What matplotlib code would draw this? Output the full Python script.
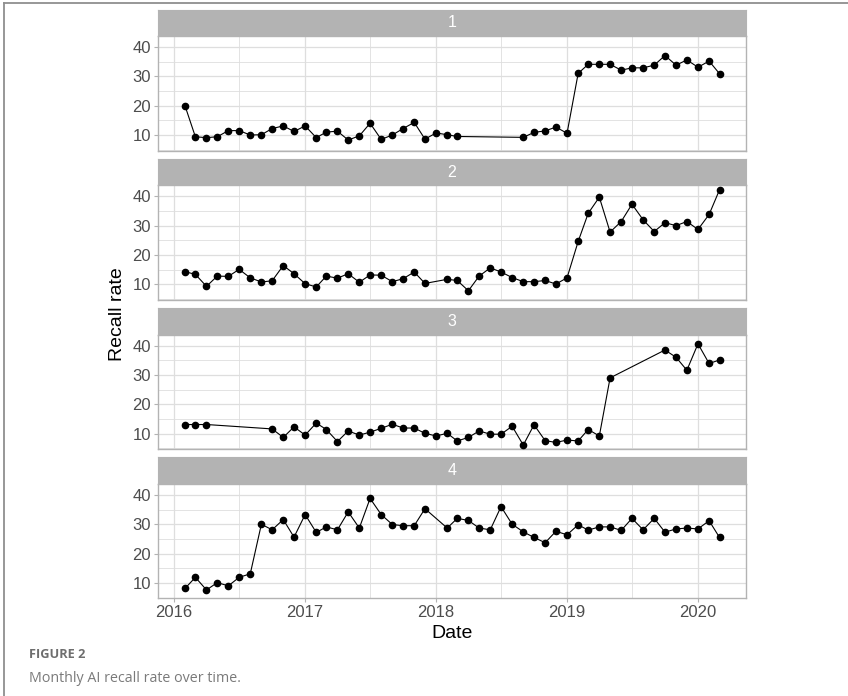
import numpy as np
import pandas as pd
import matplotlib
matplotlib.use('Agg')
import matplotlib.pyplot as plt
import matplotlib.dates as mdates
from matplotlib.lines import Line2D

# months covered by the chart (Feb 2016 .. Mar 2020), None = month missing
months = pd.date_range('2016-02-01', '2020-03-01', freq='MS')

rate_1 = [20, 9.4, 9.1, 9.4, 11.5, 11.5, 10, 10.1, 12.2, 13.1, 11.2,
          13.1, 9.1, 11, 11.3, 8.3, 9.7, 14, 8.5, 10, 12.2, 14.3, 8.6,
          10.7, 10.1, 9.5, None, None, None, None, None, 9.2, 10.9, 11.4, 12.7,
          10.6, 31, 34.1, 34.1, 34.1, 32.1, 32.9, 32.9, 33.8, 37.1, 33.8, 35.6,
          33.1, 35.2, 30.9]
rate_2 = [14.3, 13.4, 9.3, 12.8, 12.7, 15.1, 12.2, 10.8, 11.2, 16.4, 13.6,
          10.2, 9.1, 12.8, 12.1, 13.6, 10.7, 13.2, 13.1, 10.9, 11.9, 14.2, 10.3,
          None, 11.7, 11.3, 7.8, 12.8, 15.6, 14.2, 12.3, 10.9, 10.9, 11.3, 10.1,
          12.2, 24.6, 34.2, 39.7, 27.8, 31.4, 37.3, 32, 28, 31, 30, 31.4,
          28.7, 33.8, 42.2]
rate_3 = [13.1, 13.1, 13.1, None, None, None, None, None, 11.6, 8.7, 12.3,
          9.5, 13.6, 11.4, 7.3, 10.9, 9.5, 10.5, 11.8, 13.2, 11.9, 11.9, 10.1,
          9.2, 10.1, 7.5, 8.7, 10.9, 9.8, 9.8, 12.5, 6.1, 13, 7.6, 7,
          7.8, 7.5, 11.4, 9.2, 29, None, None, None, None, 38.5, 36, 31.6,
          40.6, 33.9, 35.1]
rate_4 = [8.1, 11.9, 7.6, 10.1, 9, 11.9, 13.1, 30, 28.1, 31.6, 25.6,
          33.3, 27.2, 29.1, 28.1, 34.2, 28.7, 38.8, 33.3, 29.9, 29.5, 29.5, 35.3,
          None, 28.7, 32, 31.3, 28.7, 28.1, 36, 30, 27.4, 25.5, 23.7, 27.6,
          26.4, 29.8, 28, 29.1, 29.1, 27.9, 32, 28.1, 32, 27.3, 28.4, 28.7,
          28.4, 31.2, 25.5]

panels = ['1', '2', '3', '4']
rates = [rate_1, rate_2, rate_3, rate_4]
y_ticks = [10, 20, 30, 40]

W, H = 848, 696
fig = plt.figure(figsize=(W / 100, H / 100), dpi=100)
plt.rcParams['font.family'] = ['Liberation Sans', 'DejaVu Sans']


def px_axes(x0, y0, x1, y1):
    # axes from pixel box (top-left origin)
    return fig.add_axes([x0 / W, 1 - y1 / H, (x1 - x0) / W, (y1 - y0) / H])


grey70 = '#B3B3B3'
grid_col = '#DEDEDE'
left, right = 157.7, 745.7
pitch = 149.3
strip_h = 26.5
plot_h = 114.5
xlim = (np.datetime64('2015-11-17'), np.datetime64('2020-05-13'))

for i, (name, vals) in enumerate(zip(panels, rates)):
    top = 9.5 + i * pitch

    # facet strip
    sax = px_axes(left, top, right, top + strip_h)
    sax.set_facecolor(grey70)
    sax.set_xticks([])
    sax.set_yticks([])
    for s in sax.spines.values():
        s.set_color(grey70)
    sax.text(0.5, 0.5, name, color='white', fontsize=11.5,
             ha='center', va='center', transform=sax.transAxes)

    # panel
    ax = px_axes(left, top + strip_h, right, top + strip_h + plot_h)
    s = pd.Series(vals, index=months, dtype=float).dropna()
    ax.plot(s.index, s.values, color='black', lw=0.8, marker='o',
            markersize=4.5, zorder=3)

    ax.set_xlim(*xlim)
    ax.set_ylim(4.72, 43.75)
    ax.set_yticks(y_ticks)
    ax.set_yticks([5, 15, 25, 35], minor=True)
    ax.xaxis.set_major_locator(mdates.YearLocator())
    ax.xaxis.set_minor_locator(mdates.MonthLocator(bymonth=7))
    ax.xaxis.set_major_formatter(mdates.DateFormatter('%Y'))

    ax.grid(True, which='major', color=grid_col, lw=0.9)
    ax.grid(True, which='minor', color=grid_col, lw=0.6)
    ax.set_axisbelow(True)
    for sp in ax.spines.values():
        sp.set_color(grey70)
        sp.set_linewidth(1.0)

    ax.tick_params(which='major', length=3, width=0.8, color=grey70,
                   labelcolor='#4D4D4D', labelsize=12, pad=2)
    ax.tick_params(which='minor', length=0)
    if i < 3:
        ax.tick_params(axis='x', which='major', labelbottom=False, length=0)
    else:
        ax.set_xlabel('Date', fontsize=14, labelpad=3)

# y label shared by panels
fig.text(118 / W, 1 - 314 / H, 'Recall rate', rotation=90, fontsize=14,
         ha='center', va='center')

# frame lines at top and left of the figure box
fig.add_artist(Line2D([3.5 / W, 3.5 / W], [0, 1 - 2.5 / H], color='#8f8f8f',
                      lw=1.3, transform=fig.transFigure))
fig.add_artist(Line2D([3.5 / W, 1], [1 - 2.8 / H, 1 - 2.8 / H], color='#8f8f8f',
                      lw=1.3, transform=fig.transFigure))

# caption
fig.text(29 / W, 1 - 655 / H, 'FIGURE 2', fontsize=9.2, fontweight='bold',
         color='#6e6e6e', ha='left', va='center', family=['Open Sans', 'DejaVu Sans'])
fig.text(29 / W, 1 - 679 / H, 'Monthly AI recall rate over time.', fontsize=10.3,
         color='#7a7a7a', ha='left', va='center', family=['Open Sans', 'DejaVu Sans'])

fig.savefig('out.png', dpi=100)
